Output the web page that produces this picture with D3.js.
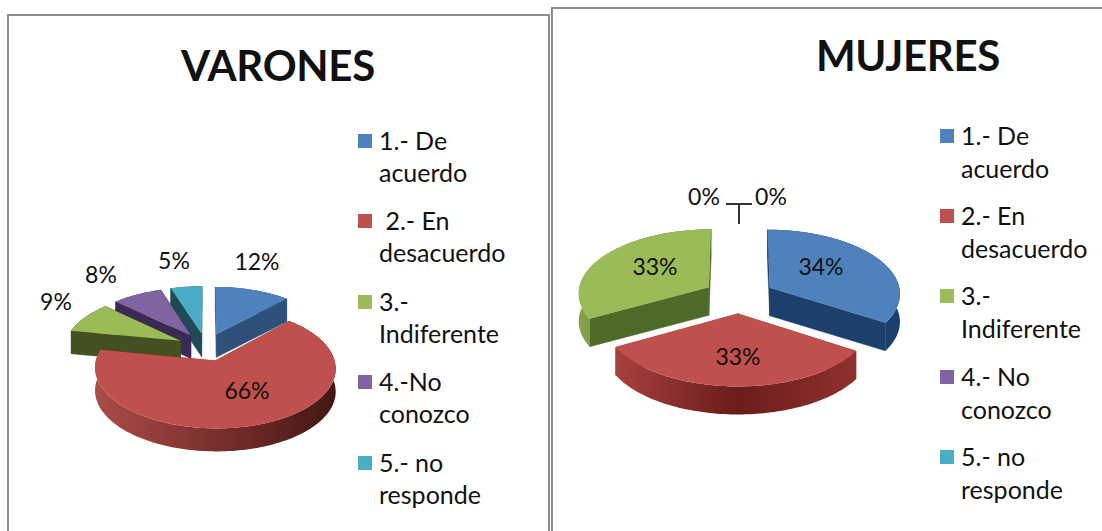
<!DOCTYPE html>
<html>
<head>
<meta charset="utf-8">
<script src="https://cdn.jsdelivr.net/npm/d3@7"></script>
<style>
  html, body { margin: 0; background: #fff; }
  text { font-family: Lato, "Noto Sans", sans-serif; fill: #111; }
</style>
</head>
<body>
<div id="wrapper"></div>
<script>
// data
const varonesValues = [12, 66, 9, 8, 5];
const mujeresValues = [34, 33, 33, 0, 0];
const varonesLabels = ['12%', '66%', '9%', '8%', '5%'];
const mujeresLabels = ['34%', '33%', '33%', '0%', '0%'];
const varonesLegend = [['1.- De', 'acuerdo'], ['\u00A02.- En', 'desacuerdo'], ['3.-', 'Indiferente'], ['4.-No', 'conozco'], ['5.- no', 'responde']];
const mujeresLegend = [['1.- De', 'acuerdo'], ['2.- En', 'desacuerdo'], ['3.-', 'Indiferente'], ['4.- No', 'conozco'], ['5.- no', 'responde']];

const topColors = ['#4f81bd', '#c0504d', '#9bbb59', '#8064a2', '#4bacc6'];

const width = 1102, height = 531;
const svg = d3.select('#wrapper').append('svg')
  .attr('width', width)
  .attr('height', height)
  .style('display', 'block');
const defs = svg.append('defs');

// marcos
svg.append('path')
  .attr('d', `M8,${height} V15 H549 V${height}`)
  .attr('fill', 'none').attr('stroke', '#8c8c8c').attr('stroke-width', 2);
svg.append('path')
  .attr('d', `M552,${height} V8 H${width}`)
  .attr('fill', 'none').attr('stroke', '#8c8c8c').attr('stroke-width', 2);

drawChart({
  id: 'v', title: 'VARONES', titleX: 278, titleY: 81,
  values: varonesValues, labels: varonesLabels, legend: varonesLegend,
  cx: 206, cy: 347, R: 116, ry: 56, depth: 23, explode: 0.25, persp: 0.12,
  cutWalls: ['#2f5078', '#7a2f2d', '#43501f', '#3a2a55', '#1f4a55'],
  arcWalls: [['#2f5078', '#2f5078'], ['#ab4c48', '#7a2f2d', '#431715'], ['#43501f', '#43501f'], ['#3a2a55', '#3a2a55'], ['#1f4a55', '#1f4a55']],
  labelPos: [[257, 262], [247, 391], [56, 302], [101, 275], [174, 261]],
  legendX: 358, legendY: [141, 221, 302, 382, 463], lineGap: 31.5
});

drawChart({
  id: 'm', title: 'MUJERES', titleX: 908, titleY: 71,
  values: mujeresValues, labels: mujeresLabels, legend: mujeresLegend,
  cx: 739, cy: 296, R: 131, ry: 64, depth: 28, explode: 0.27, persp: 0.08,
  cutWalls: ['#1d3f6c', '#8a2f2c', '#4e6a28', '#3a2a55', '#1f4a55'],
  arcWalls: [['#1d3f6c', '#1d3f6c'], ['#a8403d', '#6a1d1b', '#8f302d'], ['#86a24a', '#4e6a28'], ['#3a2a55', '#3a2a55'], ['#1f4a55', '#1f4a55']],
  labelPos: [[821, 267], [738, 357], [655, 267], [704, 197], [771, 197]],
  legendX: 940, legendY: [136, 216, 296, 377, 457], lineGap: 32.5,
  leader: { x1: 726, x2: 752, y: 204, y2: 224 }
});

function drawChart(c) {
  const g = svg.append('g');

  g.append('text')
    .attr('x', c.titleX).attr('y', c.titleY)
    .attr('text-anchor', 'middle')
    .attr('font-size', 42).attr('font-weight', 700)
    .attr('letter-spacing', -0.3)
    .text(c.title);

  const xScale = d3.scaleLinear().domain([-1, 1]).range([c.cx - c.R, c.cx + c.R]);
  const yScale = d3.scaleLinear().domain([-1, 1]).range([c.cy - c.ry, c.cy + c.ry]);
  // u: derecha, v: hacia el observador (plano de la torta, radio = 1)
  const project = (u, v, z) => {
    const s = 1 / (1 - c.persp * v);
    return [xScale(u * s), yScale(v * s) + z];
  };

  const pie = d3.pie().sort(null).value(d => d);
  const slices = pie(c.values).map((d, i) => ({ ...d, i }));
  const lineGen = d3.line();

  const midV = d => -Math.cos((d.startAngle + d.endAngle) / 2);
  const drawn = slices
    .filter(d => d.value > 0)
    .sort((a, b) => midV(a) - midV(b));

  drawn.forEach(d => {
    const mid = (d.startAngle + d.endAngle) / 2;
    const ox = c.explode * Math.sin(mid);
    const oy = -c.explode * Math.cos(mid);
    const steps = Math.max(4, Math.round((d.endAngle - d.startAngle) * 40));
    const angles = d3.range(steps + 1).map(k => d.startAngle + (d.endAngle - d.startAngle) * k / steps);

    const rim = angles.map(a => [ox + Math.sin(a), oy - Math.cos(a)]);
    const apex = [ox, oy];
    const top = rim.map(p => project(p[0], p[1], 0));
    const bottom = rim.map(p => project(p[0], p[1], c.depth));

    // cortes, el de mas atras primero
    const cuts = [rim[0], rim[rim.length - 1]]
      .sort((a, b) => a[1] - b[1])
      .map(p => [project(apex[0], apex[1], 0), project(p[0], p[1], 0), project(p[0], p[1], c.depth), project(apex[0], apex[1], c.depth)]);

    g.append('g').selectAll('path')
      .data(cuts)
      .join('path')
      .attr('d', q => lineGen(q) + 'Z')
      .attr('fill', c.cutWalls[d.i])
      .attr('stroke', c.cutWalls[d.i])
      .attr('stroke-width', 0.5);

    // borde exterior con degradado horizontal
    const gradId = `wall-${c.id}-${d.i}`;
    const stops = c.arcWalls[d.i];
    const grad = defs.append('linearGradient')
      .attr('id', gradId)
      .attr('gradientUnits', 'userSpaceOnUse')
      .attr('x1', d3.min(top, p => p[0])).attr('x2', d3.max(top, p => p[0]))
      .attr('y1', 0).attr('y2', 0);
    stops.forEach((col, k) => {
      grad.append('stop').attr('offset', k / (stops.length - 1)).attr('stop-color', col);
    });

    g.append('path')
      .attr('d', lineGen([...top, ...bottom.slice().reverse()]) + 'Z')
      .attr('fill', `url(#${gradId})`);

    g.append('path')
      .attr('d', lineGen([project(apex[0], apex[1], 0), ...top]) + 'Z')
      .attr('fill', topColors[d.i]);
  });

  // lineas guia de los 0%
  if (c.leader) {
    g.append('path')
      .attr('d', `M${c.leader.x1},${c.leader.y} H${c.leader.x2} M${(c.leader.x1 + c.leader.x2) / 2},${c.leader.y} V${c.leader.y2}`)
      .attr('fill', 'none').attr('stroke', '#333').attr('stroke-width', 2);
  }

  g.append('g').selectAll('text')
    .data(c.labels)
    .join('text')
    .attr('x', (d, i) => c.labelPos[i][0])
    .attr('y', (d, i) => c.labelPos[i][1])
    .attr('dy', '0.36em')
    .attr('text-anchor', 'middle')
    .attr('font-size', 23)
    .text(d => d);

  // leyenda
  const legend = g.append('g').selectAll('g')
    .data(c.legend)
    .join('g')
    .attr('transform', (d, i) => `translate(${c.legendX},${c.legendY[i]})`);

  legend.append('rect')
    .attr('x', 0).attr('y', -7)
    .attr('width', 14).attr('height', 14)
    .attr('fill', (d, i) => topColors[i]);

  legend.selectAll('text')
    .data(d => d)
    .join('text')
    .attr('x', 21)
    .attr('y', (d, i) => i * c.lineGap)
    .attr('dy', '0.36em')
    .attr('font-size', 25)
    .text(d => d);
}
</script>
</body>
</html>
